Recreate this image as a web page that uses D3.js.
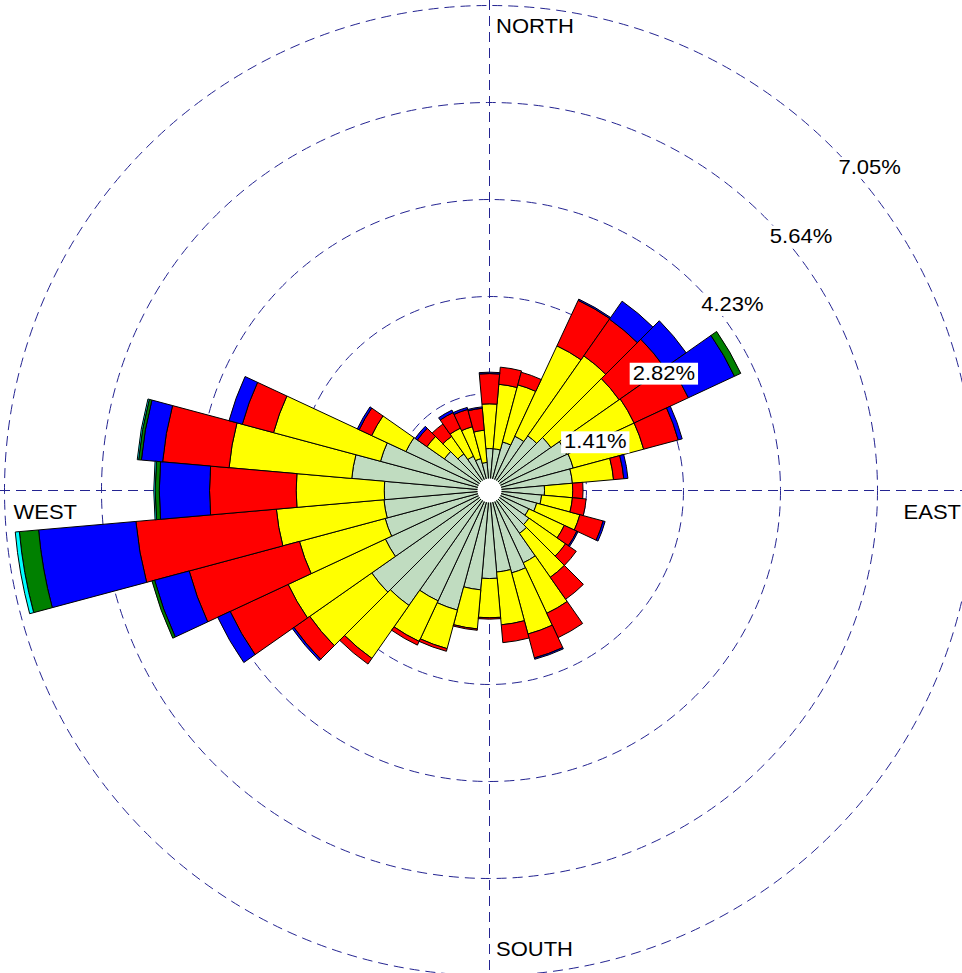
<!DOCTYPE html>
<html>
<head>
<meta charset="utf-8">
<script src="https://cdn.jsdelivr.net/npm/d3@7"></script>
<style>
  html, body { margin: 0; padding: 0; background: #ffffff; overflow: hidden; }
  svg { display: block; }
</style>
</head>
<body>
<svg id="rose" width="962" height="973"></svg>
<script>
// Wind direction sectors (degrees clockwise from north), 10° wide each
const directions = d3.range(0, 360, 10);

// Frequency (% of observations) per speed class, one value per direction
const speedClasses = ["class1", "class2", "class3", "class4", "class5", "class6"];
const classColors  = ["#c0dcc0", "#ffff00", "#ff0000", "#0000ff", "#008000", "#00ffff"];

const class1 = [0.61,0.61,0.73,0.87,0.97,1.09,1.24,1.26,1.21,0.80,0.76,0.71,0.63,0.70,0.76,1.16,1.24,1.19,
                1.28,1.45,1.80,1.77,2.04,2.09,1.67,1.57,1.54,1.53,2.01,1.64,1.34,0.80,0.65,0.55,0.48,0.41];
const class2 = [0.65,0.94,0.86,1.45,1.42,1.21,1.08,1.06,0.60,0.41,0.45,0.65,0.57,0.65,0.78,0.81,0.92,0.77,
                0.57,0.57,0.58,0.65,0.94,1.10,1.56,1.29,1.57,1.28,1.79,1.61,0.55,0.31,0.31,0.45,0.48,0.47];
const class3 = [0.44,0.25,0.19,0.73,0.65,0.81,0.87,0.52,0.15,0.15,0.20,0.35,0.20,0.19,0.39,0.39,0.36,0.26,
                0.02,0.02,0.04,0.06,0.10,0.28,0.93,1.66,2.05,1.26,0.97,0.47,0.20,0.17,0.22,0.25,0.26,0.32];
const class4 = [0.02,0,0,0.02,0.32,0.38,0.74,0.06,0.06,0,0,0.03,0.02,0,0,0,0.02,0,
                0,0,0,0,0,0.03,0.20,0.52,1.42,0.73,0.31,0.20,0.03,0.04,0,0.04,0.03,0.02];
const class5 = [0,0,0,0,0,0,0.10,0,0,0,0,0,0,0,0,0,0,0,
                0,0,0,0,0,0,0,0.04,0.28,0.06,0.04,0,0,0,0,0,0,0];
const class6 = [0,0,0,0,0,0,0,0,0,0,0,0,0,0,0,0,0,0,
                0,0,0,0,0,0,0,0,0.06,0.02,0.02,0,0,0,0,0,0,0];

// Ring values and compass labels
const ringTicks = [1.41, 2.82, 4.23, 5.64, 7.05];
const compassLabels = ["NORTH", "EAST", "SOUTH", "WEST"];

// ---- layout ----
const W = 962, H = 973;
const cx = 489.5, cy = 490.5;
const maxRadius = 485;
const gridColor = "rgb(36,36,145)";
const labelFont = "Liberation Sans, Arial, Helvetica, sans-serif";
const fontSize = 20;
const stretch = 1.1;   // slightly wide lettering

const svg = d3.select("#rose");
svg.append("rect").attr("width", W).attr("height", H).attr("fill", "#fff");

const r = d3.scaleLinear().domain([0, d3.max(ringTicks)]).range([0, maxRadius]);
const angle = d3.scaleLinear().domain([0, 360]).range([0, 2 * Math.PI]);

// table for stacking: one row per direction
const seriesArrays = [class1, class2, class3, class4, class5, class6];
const table = directions.map((d, i) => {
  const row = { dir: d };
  speedClasses.forEach((k, j) => { row[k] = seriesArrays[j][i]; });
  return row;
});
const stacked = d3.stack().keys(speedClasses)(table);

const g = svg.append("g").attr("transform", `translate(${cx},${cy})`);

// dashed grid: rings and the two axes
const grid = g.append("g")
  .attr("fill", "none")
  .attr("stroke", gridColor)
  .attr("stroke-width", 1)
  .attr("stroke-dasharray", "10,6");
grid.selectAll("circle.ring").data(ringTicks).join("circle")
  .attr("class", "ring").attr("r", d => r(d));
grid.append("line").attr("x1", 0).attr("x2", 0).attr("y1", -cy).attr("y2", H - cy);
grid.append("line").attr("y1", 0).attr("y2", 0).attr("x1", -cx).attr("x2", W - cx);

// stacked sectors
const arc = d3.arc();
const bars = g.append("g").attr("stroke", "#000").attr("stroke-width", 1).attr("stroke-linejoin", "miter");
stacked.forEach((layer, j) => {
  bars.append("g")
    .attr("fill", classColors[j])
    .selectAll("path")
    .data(layer.filter(s => s[1] - s[0] > 0))
    .join("path")
    .attr("d", s => arc({
      innerRadius: r(s[0]),
      outerRadius: r(s[1]),
      startAngle: angle(s.data.dir - 5),
      endAngle: angle(s.data.dir + 5)
    }));
});

// calm hole in the middle
g.append("circle").attr("r", 12).attr("fill", "#fff");

// helper: wide text placed at (x, y) baseline
function wideText(parent, x, y, str, anchor) {
  return parent.append("text")
    .attr("transform", `translate(${x},${y}) scale(${stretch},1)`)
    .attr("text-anchor", anchor || "start")
    .attr("font-family", labelFont)
    .attr("font-size", fontSize)
    .attr("fill", "#000")
    .text(str);
}

// ring value labels along the 45° line, on white boxes
const ringLabels = g.append("g");
ringTicks.forEach(t => {
  const px = r(t) * Math.SQRT1_2, py = -r(t) * Math.SQRT1_2;
  const lab = ringLabels.append("g").attr("transform", `translate(${px},${py})`);
  const box = lab.append("rect").attr("fill", "#fff");
  const txt = wideText(lab, 6, 26.5, t.toFixed(2) + "%");
  const bb = txt.node().getBBox();
  box.attr("x", 6 - 3).attr("y", 26.5 + bb.y + 1)
     .attr("width", bb.width * stretch + 6).attr("height", bb.height);
});

// compass labels
const comp = svg.append("g");
wideText(comp, cx + 6.5, 33, compassLabels[0]);
wideText(comp, W - 1, 518.5, compassLabels[1], "end");
wideText(comp, cx + 6.5, 955.5, compassLabels[2]);
wideText(comp, 13.5, 518.5, compassLabels[3]);
</script>
</body>
</html>
